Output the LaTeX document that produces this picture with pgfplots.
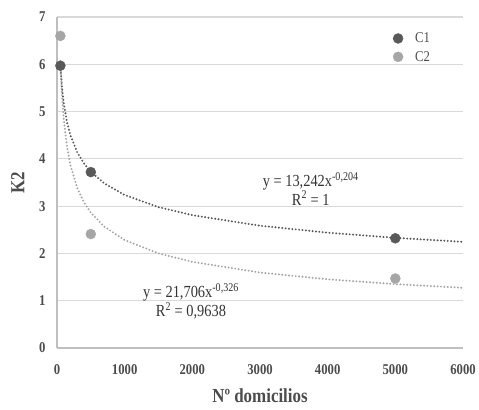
\documentclass[border=0pt]{standalone}
\usepackage{pgfplots}
\pgfplotsset{compat=1.18}
\usepackage{fontspec}
\setmainfont{Liberation Serif}[FakeStretch=0.85]

\definecolor{cone}{HTML}{595959}
\definecolor{ctwo}{HTML}{A6A6A6}
\definecolor{gridc}{HTML}{D9D9D9}
\definecolor{axc}{HTML}{BFBFBF}

\begin{document}
\begin{tikzpicture}[x=1bp,y=1bp]
\useasboundingbox (0,0) rectangle (479bp,410bp);
\begin{axis}[
    at={(57bp,62bp)},
    anchor=south west,
    width=406bp, height=331bp,
    scale only axis,
    xmin=0, xmax=6000,
    ymin=0, ymax=7,
    xtick={0,1000,2000,3000,4000,5000,6000},
    ytick={0,1,2,3,4,5,6,7},
    axis x line*=bottom,
    axis y line*=left,
    axis line style={axc, line width=1.2pt},
    ymajorgrids=true,
    grid style={gridc, line width=1.2pt},
    major tick length=0pt,
    tick style={draw=none},
    /pgf/number format/assume math mode=true,
    /pgf/number format/set thousands separator={},
    ticklabel style={font=\fontsize{15}{17}\selectfont\bfseries, text=black!70},
    xticklabel style={yshift=-13bp},
    yticklabel style={xshift=-8bp},
    xlabel={Nº domicilios},
    ylabel={K2},
    xlabel style={font=\fontsize{20}{22}\selectfont\bfseries, text=black!70, yshift=-7bp},
    ylabel style={font=\fontsize{20}{22}\selectfont\bfseries, text=black!70, yshift=8bp},
    legend style={at={(rel axis cs:0.82,0.965)}, anchor=north west, draw=none, fill=none,
        font=\fontsize{15}{17}\selectfont, text=black!70, row sep=3bp,
        nodes={inner xsep=12bp}},
    legend cell align=left,
    clip=false,
]

% trendlines (power fits, read as points)
\addplot[forget plot, cone, line width=2.2pt, line cap=round, dash pattern=on 0pt off 3.4pt]
coordinates {
(50,5.962)(75,5.489)(100,5.175)(150,4.764)(200,4.493)(300,4.136)(400,3.901)(500,3.727)
(700,3.480)(1000,3.236)(1500,2.979)(2000,2.809)(3000,2.586)(4000,2.439)(5000,2.330)(6000,2.245)
};
\addplot[forget plot, ctwo, line width=2.2pt, line cap=round, dash pattern=on 0pt off 3.4pt]
coordinates {
(50,6.063)(75,5.313)(100,4.837)(150,4.238)(200,3.859)(300,3.381)(400,3.078)(500,2.862)
(700,2.565)(1000,2.283)(1500,2.001)(2000,1.822)(3000,1.596)(4000,1.453)(5000,1.351)(6000,1.273)
};

\addplot[only marks, mark=*, mark size=5bp, cone, mark options={draw=cone, fill=cone}]
coordinates {(50,5.97)(500,3.72)(5000,2.32)};
\addlegendentry{C1}
\addplot[only marks, mark=*, mark size=5bp, ctwo, mark options={draw=ctwo, fill=ctwo}]
coordinates {(50,6.6)(500,2.41)(5000,1.47)};
\addlegendentry{C2}

\node[font=\fontsize{17}{17}\selectfont, text=black!80, align=center] at (axis cs:3750,3.37)
  {y = 13,242x\textsuperscript{-0,204}\\R\textsuperscript{2} = 1};
\node[font=\fontsize{17}{17}\selectfont, text=black!80, align=center] at (axis cs:1980,0.99)
  {y = 21,706x\textsuperscript{-0,326}\\R\textsuperscript{2} = 0,9638};
\end{axis}
\end{tikzpicture}
\end{document}
